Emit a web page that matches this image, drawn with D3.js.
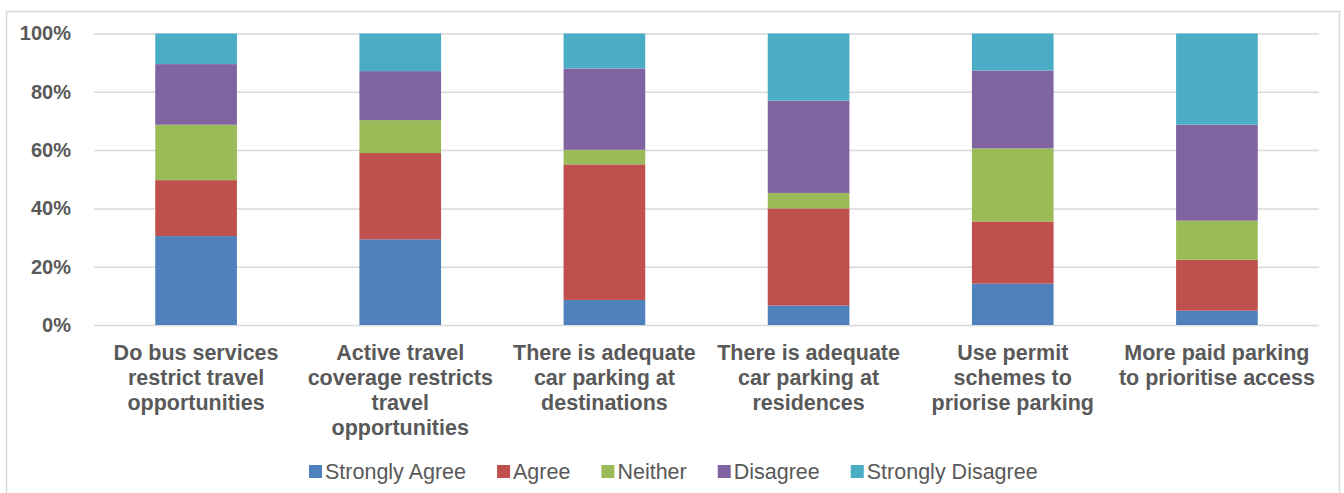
<!DOCTYPE html>
<html>
<head>
<meta charset="utf-8">
<script src="https://cdn.jsdelivr.net/npm/d3@7"></script>
<style>
  html, body { margin: 0; padding: 0; background: #ffffff; }
  svg { display: block; font-family: "Liberation Sans", Arial, sans-serif; }
</style>
</head>
<body>
<svg id="chart" width="1344" height="493"></svg>
<script>
// Survey statements (each label split into its display lines)
const categories = [
  "Do bus services restrict travel opportunities",
  "Active travel coverage restricts travel opportunities",
  "There is adequate car parking at destinations",
  "There is adequate car parking at residences",
  "Use permit schemes to priorise parking",
  "More paid parking to prioritise access"
];
const categoryLines = [
  ["Do bus services", "restrict travel", "opportunities"],
  ["Active travel", "coverage restricts", "travel", "opportunities"],
  ["There is adequate", "car parking at", "destinations"],
  ["There is adequate", "car parking at", "residences"],
  ["Use permit", "schemes to", "priorise parking"],
  ["More paid parking", "to prioritise access"]
];

// Share of responses (%) per answer
const seriesNames = ["Strongly Agree", "Agree", "Neither", "Disagree", "Strongly Disagree"];
const stronglyAgree    = [30.5, 29.4,  8.6,  6.7, 14.2,  4.9];
const agree            = [19.2, 29.6, 46.5, 33.3, 21.3, 17.5];
const neither          = [19.0, 11.3,  5.0,  5.3, 25.1, 13.4];
const disagree         = [20.8, 16.8, 27.9, 31.7, 26.7, 32.9];
const stronglyDisagree = [10.5, 12.9, 12.0, 23.0, 12.7, 31.3];

const yTicks = [0, 20, 40, 60, 80, 100];
const colors = ["#4f81bd", "#c0504d", "#9bbb59", "#8064a2", "#4bacc6"];

const seriesValues = [stronglyAgree, agree, neither, disagree, stronglyDisagree];
const rows = categories.map((c, i) => {
  const r = { category: c };
  seriesNames.forEach((s, k) => { r[s] = seriesValues[k][i]; });
  return r;
});

const svg = d3.select("#chart");
const textColor = "#595959";
const gridColor = "#d9d9d9";

// Chart frame
svg.append("rect")
  .attr("x", 6.5).attr("y", 11.5)
  .attr("width", 1333).attr("height", 500)
  .attr("fill", "none").attr("stroke", gridColor).attr("stroke-width", 1.5);

const plot = { left: 94, right: 1319, top: 33.5, bottom: 325 };

const x = d3.scaleBand()
  .domain(categories)
  .range([plot.left, plot.right])
  .paddingInner(0.6)
  .paddingOuter(0.3);

const y = d3.scaleLinear()
  .domain([0, 100])
  .range([plot.bottom, plot.top]);

// Horizontal gridlines
const grid = svg.append("g")
  .attr("transform", `translate(${plot.left},0)`)
  .call(d3.axisLeft(y).tickValues(yTicks).tickSize(-(plot.right - plot.left)).tickFormat(""));
grid.select(".domain").remove();
grid.selectAll(".tick line").attr("stroke", gridColor).attr("stroke-width", 1.5);

// Y axis labels
const yAxis = svg.append("g")
  .attr("transform", `translate(71,0)`)
  .call(d3.axisLeft(y).tickValues(yTicks).tickSize(0).tickPadding(0).tickFormat(d => d + "%"));
yAxis.select(".domain").remove();
yAxis.selectAll(".tick text")
  .attr("fill", textColor)
  .style("font-family", "'Liberation Sans', Arial, sans-serif")
  .style("font-size", "20px")
  .style("font-weight", "bold");

// Stacked bars
const stacked = d3.stack().keys(seriesNames)(rows);
svg.append("g").selectAll("g")
  .data(stacked)
  .join("g")
  .attr("fill", (d, i) => colors[i])
  .selectAll("rect")
  .data(d => d)
  .join("rect")
  .attr("x", d => x(d.data.category))
  .attr("width", x.bandwidth())
  .attr("y", d => y(d[1]))
  .attr("height", d => y(d[0]) - y(d[1]));

// Category labels
const catG = svg.append("g");
categories.forEach((c, i) => {
  const t = catG.append("text")
    .attr("x", x(c) + x.bandwidth() / 2)
    .attr("y", 360)
    .attr("text-anchor", "middle")
    .attr("fill", textColor)
    .style("font-size", "21.5px")
    .style("font-weight", "bold");
  categoryLines[i].forEach((line, j) => {
    t.append("tspan")
      .attr("x", x(c) + x.bandwidth() / 2)
      .attr("y", 360 + j * 25)
      .text(line);
  });
});

// Legend
const legend = svg.append("g");
let lx = 309;
const legendY = 479;
seriesNames.forEach((name, i) => {
  legend.append("rect")
    .attr("x", lx).attr("y", legendY - 14)
    .attr("width", 13).attr("height", 13)
    .attr("fill", colors[i]);
  const t = legend.append("text")
    .attr("x", lx + 16).attr("y", legendY)
    .attr("fill", textColor)
    .style("font-size", "21.5px")
    .text(name);
  lx += 16 + t.node().getComputedTextLength() + 31;
});
</script>
</body>
</html>
